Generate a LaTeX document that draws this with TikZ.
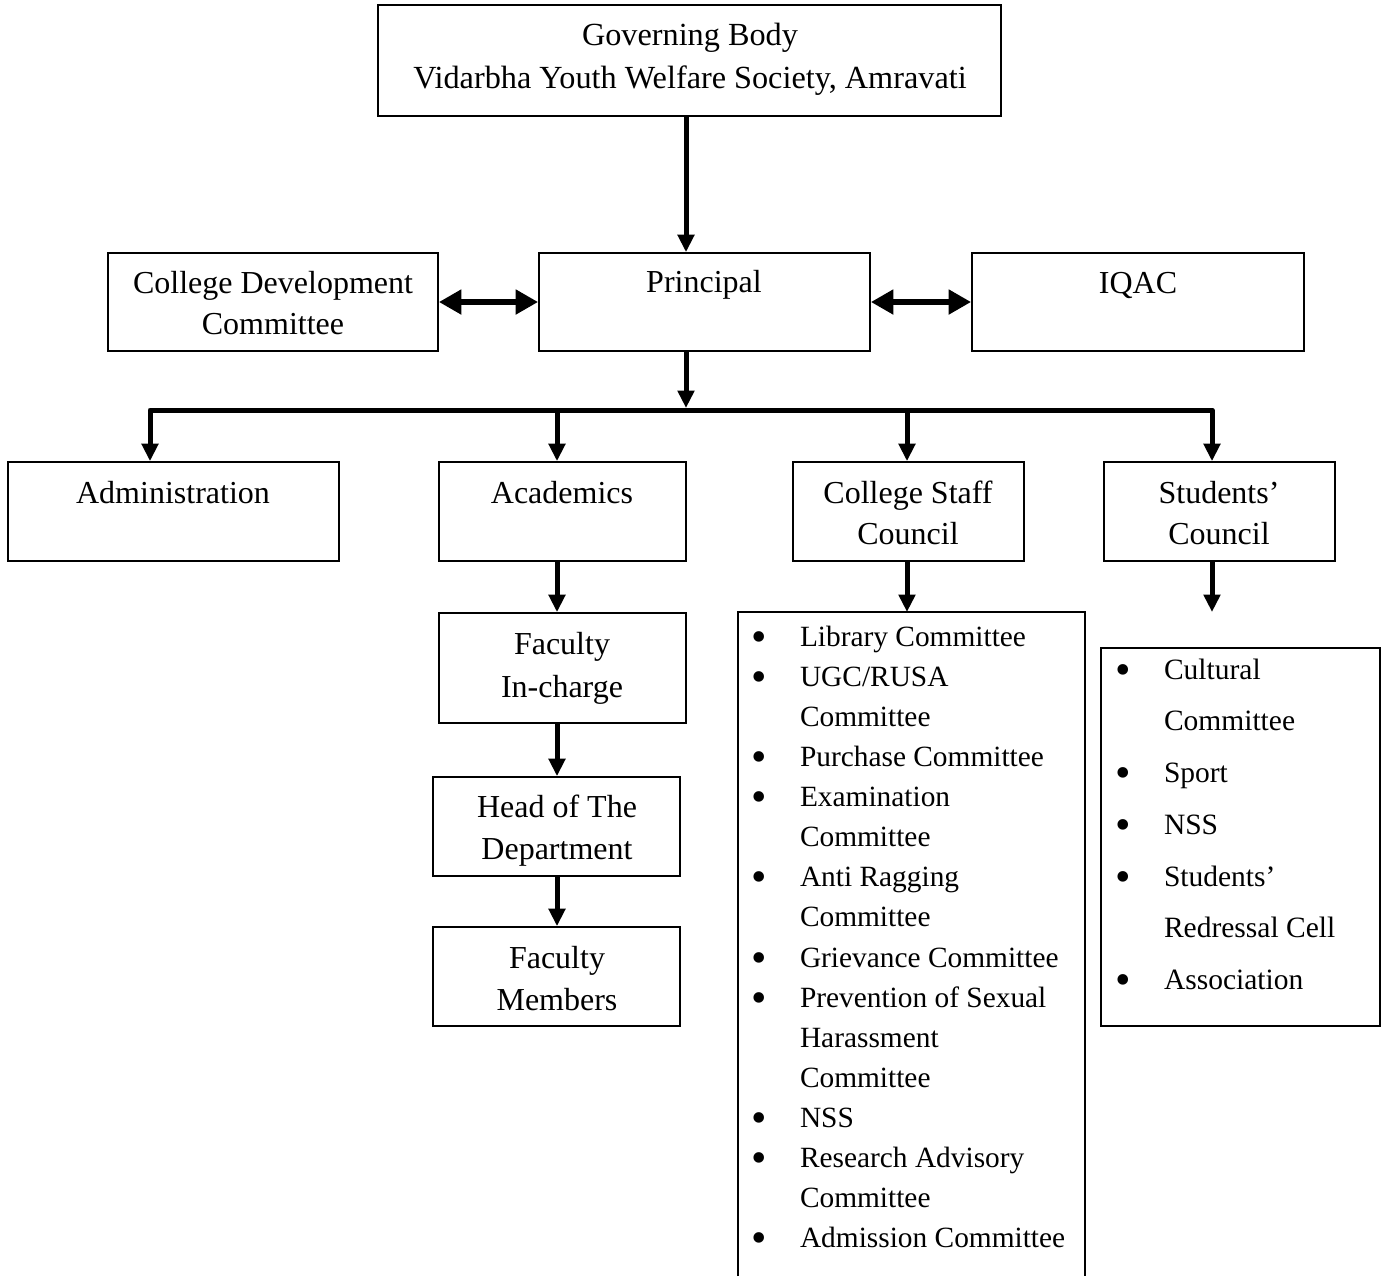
\documentclass[tikz,border=0pt]{standalone}
\usepackage{fontspec}
\setmainfont{Liberation Serif}
\usetikzlibrary{arrows.meta}

\newcommand{\ctext}[1]{\begin{tabular}[t]{@{}c@{}}#1\end{tabular}}
\newcommand{\ltext}[1]{\begin{tabular}[t]{@{}l@{}}#1\end{tabular}}
\newcommand{\bi}{\makebox[19pt][l]{\hspace*{-0.6pt}\raisebox{-2pt}{\scalebox{1.5}{\textbullet}}}}
\newcommand{\ci}{\hspace*{19pt}}

\begin{document}
\begin{tikzpicture}[x=0.4pt,y=-0.4pt,
  box/.style={draw,line width=0.7pt,inner sep=0pt},
  txt/.style={anchor=base,inner sep=0pt,font=\fontsize{12.8}{16.8}\selectfont},
  lst/.style={anchor=base west,inner sep=0pt},
  arr/.style={line width=2pt,-{Triangle[length=7pt,width=6.5pt]}},
  darr/.style={line width=2.4pt,{Triangle[length=9pt,width=9.5pt]}-{Triangle[length=9pt,width=9.5pt]}}]
  \useasboundingbox (0,0) rectangle (1388,1276);

  % boxes
  \node[box,minimum width=249.2pt,minimum height=44.4pt] (gov) at (689.5,60.5) {};
  \node[box,minimum width=132pt,minimum height=39.2pt] (cdc) at (273,302) {};
  \node[box,minimum width=132.4pt,minimum height=39.2pt] (prin) at (704.5,302) {};
  \node[box,minimum width=132.8pt,minimum height=39.2pt] (iqac) at (1138,302) {};
  \node[box,minimum width=132.4pt,minimum height=39.6pt] (adm) at (173.5,511.5) {};
  \node[box,minimum width=98.8pt,minimum height=39.6pt] (acad) at (562.5,511.5) {};
  \node[box,minimum width=92.4pt,minimum height=39.6pt] (csc) at (908.5,511.5) {};
  \node[box,minimum width=92.4pt,minimum height=39.6pt] (stc) at (1219.5,511.5) {};
  \node[box,minimum width=98.8pt,minimum height=44pt] (fic) at (562.5,668) {};
  \node[box,minimum width=98.8pt,minimum height=39.6pt] (hod) at (556.5,826.5) {};
  \node[box,minimum width=98.8pt,minimum height=39.6pt] (fm) at (556.5,976.5) {};
  \node[box,minimum width=111.6pt,minimum height=151.2pt] (stl) at (1240.5,837) {};

  % texts
  \node[txt,font=\fontsize{12.9}{17.2}\selectfont] (govT) at (690,45) {\ctext{Governing Body\\Vidarbha Youth Welfare Society, Amravati}};
  \node[txt,font=\fontsize{12.8}{16.4}\selectfont] (cdcT) at (273,293) {\ctext{College Development\\Committee}};
  \node[txt] (prinT) at (704,292) {Principal};
  \node[txt] (iqacT) at (1138,293) {IQAC};
  \node[txt] (admT) at (173,503) {Administration};
  \node[txt] (acadT) at (562,503) {Academics};
  \node[txt,font=\fontsize{12.8}{16.4}\selectfont] (cscT) at (908,503) {\ctext{College Staff\\Council}};
  \node[txt,font=\fontsize{12.8}{16.4}\selectfont] (stcT) at (1219,503) {\ctext{Students’\\Council}};
  \node[txt,font=\fontsize{12.8}{17.2}\selectfont] (ficT) at (562,654) {\ctext{Faculty\\In-charge}};
  \node[txt] (hodT) at (557,817) {\ctext{Head of The\\Department}};
  \node[txt] (fmT) at (557,968) {\ctext{Faculty\\Members}};

  % committee lists
  \node[lst,font=\fontsize{11.75}{16.05}\selectfont] (staffT) at (752,646) {\ltext{%
    \bi Library Committee\\ \bi UGC/RUSA\\ \ci Committee\\ \bi Purchase Committee\\
    \bi Examination\\ \ci Committee\\ \bi Anti Ragging\\ \ci Committee\\
    \bi Grievance Committee\\ \bi Prevention of Sexual\\ \ci Harassment\\ \ci Committee\\
    \bi NSS\\ \bi Research Advisory\\ \ci Committee\\ \bi Admission Committee}};
  \node[lst,font=\fontsize{11.8}{20.7}\selectfont] (stuT) at (1116,679) {\ltext{%
    \bi Cultural\\ \ci Committee\\ \bi Sport\\ \bi NSS\\ \bi Students’\\
    \ci Redressal Cell\\ \bi Association}};

  \coordinate (spine) at (686,408);
  \coordinate (barL) at (150,410);
  \coordinate (barR) at (1212,410);
  \coordinate (dropA) at (557,410);
  \coordinate (dropB) at (907,410);
  \coordinate (staffTop) at (907,612);
  \coordinate (stuEnd) at (1212,612);

  % open list frame
  \draw[line width=0.7pt] (738,1276) |- (staffTop) -| (1085,1276);

  % connectors
  \draw[arr] (gov.south -| spine) -- (prin.north -| spine);
  \draw[darr] (cdc.east) -- (prin.west);
  \draw[darr] (prin.east) -- (iqac.west);
  \draw[arr] (prin.south -| spine) -- (spine);
  \draw[line width=2pt,line join=round,{Triangle[length=7pt,width=6.5pt]}-{Triangle[length=7pt,width=6.5pt]}]
    (barL |- adm.north) |- (barR) -- (barR |- stc.north);
  \draw[arr] (dropA) -- (dropA |- acad.north);
  \draw[arr] (dropB) -- (dropB |- csc.north);
  \draw[arr] (acad.south -| dropA) -- (fic.north -| dropA);
  \draw[arr] (fic.south -| dropA) -- (hod.north -| dropA);
  \draw[arr] (hod.south -| dropA) -- (fm.north -| dropA);
  \draw[arr] (csc.south -| dropB) -- (staffTop);
  \draw[arr] (stc.south -| barR) -- (stuEnd);
\end{tikzpicture}
\end{document}
